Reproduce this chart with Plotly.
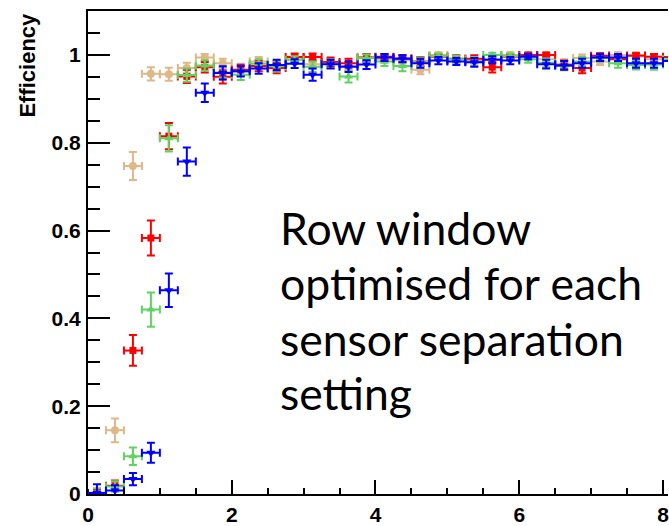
import plotly.graph_objects as go

# ---- data ----
bin_centers = [0.125, 0.375, 0.625, 0.875, 1.125, 1.375, 1.625, 1.875, 2.125, 2.375,
               2.625, 2.875, 3.125, 3.375, 3.625, 3.875, 4.125, 4.375, 4.625, 4.875,
               5.125, 5.375, 5.625, 5.875, 6.125, 6.375, 6.625, 6.875, 7.125, 7.375,
               7.625, 7.875, 8.125]
bin_half_width = 0.125

eff_tan = [0.000, 0.145, 0.747, 0.957, 0.956, 0.970, 0.994, 0.981, 0.962, 0.985,
           0.976, 0.990, 0.979, 0.982, 0.975, 0.994, 0.990, 0.988, 0.966, 1.000,
           0.990, 0.988, 0.990, 1.000, 0.998, 0.990, 0.980, 0.993, 0.985, 1.000,
           1.000, 0.990, 0.995]
err_tan = [0.010, 0.027, 0.032, 0.015, 0.015, 0.012, 0.008, 0.010, 0.010, 0.010,
           0.010, 0.008, 0.010, 0.010, 0.010, 0.008, 0.008, 0.008, 0.010, 0.006,
           0.008, 0.008, 0.008, 0.006, 0.006, 0.008, 0.010, 0.008, 0.008, 0.006,
           0.006, 0.008, 0.008]

eff_red = [0.000, 0.019, 0.327, 0.583, 0.815, 0.951, 0.972, 0.950, 0.966, 0.975,
           0.970, 0.995, 0.995, 0.984, 0.981, 0.994, 0.996, 0.992, 0.985, 0.996,
           0.991, 0.991, 0.972, 0.996, 1.000, 1.000, 0.977, 0.970, 0.998, 0.990,
           0.998, 0.996, 0.995]
err_red = [0.010, 0.012, 0.035, 0.040, 0.030, 0.015, 0.012, 0.015, 0.012, 0.012,
           0.012, 0.008, 0.008, 0.010, 0.010, 0.008, 0.006, 0.008, 0.010, 0.006,
           0.008, 0.008, 0.012, 0.006, 0.005, 0.005, 0.010, 0.012, 0.006, 0.008,
           0.006, 0.006, 0.008]

eff_green = [0.003, 0.017, 0.086, 0.420, 0.810, 0.954, 0.976, 0.960, 0.955, 0.980,
             0.974, 0.989, 0.973, 0.980, 0.951, 0.993, 0.985, 0.975, 0.984, 0.997,
             0.990, 0.985, 1.000, 0.997, 0.990, 0.982, 0.975, 0.985, 0.993, 0.981,
             0.977, 0.978, 0.990]
err_green = [0.010, 0.012, 0.020, 0.039, 0.030, 0.015, 0.012, 0.012, 0.012, 0.010,
             0.012, 0.008, 0.012, 0.010, 0.014, 0.008, 0.010, 0.012, 0.010, 0.006,
             0.008, 0.010, 0.005, 0.006, 0.008, 0.010, 0.010, 0.010, 0.008, 0.010,
             0.010, 0.012, 0.008]

eff_blue = [0.002, 0.008, 0.034, 0.094, 0.464, 0.757, 0.914, 0.959, 0.963, 0.969,
            0.977, 0.980, 0.955, 0.979, 0.973, 0.978, 0.994, 0.991, 0.981, 0.987,
            0.985, 0.983, 0.989, 0.987, 0.996, 0.979, 0.976, 0.981, 0.994, 0.994,
            0.981, 0.981, 0.986]
err_blue = [0.020, 0.012, 0.014, 0.023, 0.038, 0.032, 0.021, 0.015, 0.012, 0.012,
            0.012, 0.010, 0.014, 0.010, 0.012, 0.010, 0.008, 0.008, 0.010, 0.008,
            0.008, 0.010, 0.008, 0.008, 0.006, 0.010, 0.010, 0.010, 0.008, 0.008,
            0.010, 0.010, 0.010]

y_tick_vals = [0, 0.2, 0.4, 0.6, 0.8, 1.0]
y_tick_text = ["0", "0.2", "0.4", "0.6", "0.8", "1"]
x_tick_vals = [0, 2, 4, 6, 8]
x_tick_text = ["0", "2", "4", "6", "8"]

y_title = "Efficiency"
note_lines = ["Row window", "optimised for each", "sensor separation", "setting"]
note_line_y = [0.608, 0.481, 0.354, 0.231]

series = [
    (eff_tan, err_tan, "#DEB887", "circle", 8),
    (eff_red, err_red, "#FF0000", "square", 7),
    (eff_green, err_green, "#5FD35F", "triangle-up", 8),
    (eff_blue, err_blue, "#0000FF", "triangle-down", 8),
]

fig = go.Figure()
for vals, errs, col, sym, sz in series:
    fig.add_trace(go.Scatter(
        x=bin_centers, y=vals, mode="markers",
        marker=dict(color=col, symbol=sym, size=sz, line=dict(width=0)),
        error_x=dict(type="constant", value=bin_half_width, color=col, thickness=2, width=4),
        error_y=dict(type="data", array=errs, color=col, thickness=2, width=4),
        showlegend=False, cliponaxis=True,
    ))

tickfont = dict(family="Liberation Sans, Arial, sans-serif", size=21, color="black", weight="bold")

fig.update_xaxes(
    range=[0, 8.07], showline=True, linecolor="black", linewidth=2, mirror=True,
    ticks="inside", ticklen=14, tickwidth=2, tickcolor="black",
    tickvals=x_tick_vals, ticktext=x_tick_text, tickfont=tickfont,
    minor=dict(dtick=0.5, tick0=0, ticks="inside", ticklen=6, tickwidth=2, tickcolor="black"),
    showgrid=False, zeroline=False, ticklabelstandoff=1, ticklabeloverflow="allow",
)
fig.update_yaxes(
    range=[0, 1.1], showline=True, linecolor="black", linewidth=2, mirror=False,
    ticks="inside", ticklen=22, tickwidth=2, tickcolor="black",
    tickvals=y_tick_vals, ticktext=y_tick_text, tickfont=tickfont,
    minor=dict(dtick=0.05, tick0=0, ticks="inside", ticklen=12, tickwidth=2, tickcolor="black"),
    showgrid=False, zeroline=False, ticklabelstandoff=1, ticklabeloverflow="allow",
)

annotations = [dict(
    text=y_title, textangle=-90, xref="paper", yref="paper",
    x=-0.105, y=1.0, xanchor="center", yanchor="top", showarrow=False,
    font=dict(family="Liberation Sans, Arial, sans-serif", size=22, color="black", weight="bold"),
)]
for line, yy in zip(note_lines, note_line_y):
    annotations.append(dict(
        text=line, xref="x", yref="y", x=2.64, y=yy, xanchor="left", yanchor="middle",
        showarrow=False, font=dict(family="Lato, sans-serif", size=44.5, color="black"),
    ))

fig.update_layout(
    width=669, height=526,
    margin=dict(l=88, r=0, t=11, b=24, pad=0),
    paper_bgcolor="white", plot_bgcolor="white",
    annotations=annotations,
)

fig.write_html("out.html")
